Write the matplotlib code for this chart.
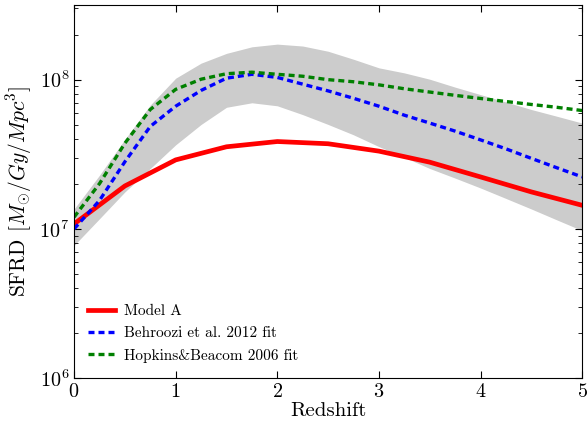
import numpy as np
import matplotlib
matplotlib.use('Agg')
import matplotlib.pyplot as plt

plt.rcParams['font.family'] = 'serif'
plt.rcParams['font.serif'] = ['cmr10']
plt.rcParams['mathtext.fontset'] = 'cm'
plt.rcParams['axes.formatter.use_mathtext'] = True

# redshift grids
z_model = [0, 0.5, 1, 1.5, 2, 2.5, 3, 3.5, 4, 4.5, 5]
z_fit = [0, 0.25, 0.5, 0.75, 1, 1.25, 1.5, 1.75, 2, 2.25, 2.5,
         2.75, 3, 3.25, 3.5, 3.75, 4, 4.25, 4.5, 4.75, 5]

# SFRD in M_sun / Gyr / Mpc^3
model_a = [1.08e7, 1.94e7, 2.9e7, 3.55e7, 3.85e7, 3.72e7,
           3.32e7, 2.8e7, 2.23e7, 1.77e7, 1.44e7]
behroozi = [1.00e7, 1.55e7, 2.82e7, 4.86e7, 6.64e7, 8.47e7, 1.023e8,
            1.086e8, 1.035e8, 9.33e7, 8.41e7, 7.50e7, 6.64e7, 5.78e7,
            5.12e7, 4.52e7, 3.95e7, 3.44e7, 2.97e7, 2.57e7, 2.23e7]
hopkins = [1.20e7, 2.01e7, 3.75e7, 6.31e7, 8.61e7, 1.007e8, 1.096e8,
           1.122e8, 1.086e8, 1.054e8, 1.0e8, 9.68e7, 9.23e7, 8.69e7,
           8.26e7, 7.85e7, 7.48e7, 7.14e7, 6.82e7, 6.53e7, 6.21e7]
band_hi = [1.36e7, 2.29e7, 3.98e7, 6.76e7, 1.023e8, 1.29e8, 1.50e8,
           1.66e8, 1.73e8, 1.68e8, 1.55e8, 1.37e8, 1.20e8, 1.11e8,
           1.007e8, 8.91e7, 7.94e7, 7.08e7, 6.31e7, 5.69e7, 5.12e7]
band_lo = [7.76e6, 1.17e7, 1.77e7, 2.54e7, 3.66e7, 5.01e7, 6.53e7,
           7.0e7, 6.68e7, 5.83e7, 5.01e7, 4.27e7, 3.56e7, 3.02e7,
           2.54e7, 2.19e7, 1.88e7, 1.60e7, 1.36e7, 1.15e7, 9.75e6]

fig = plt.figure(figsize=(5.88, 4.23), dpi=100)
ax = fig.add_axes([0.126, 0.106, 0.864, 0.882])

ax.fill_between(z_fit, band_lo, band_hi, color='#cccccc', lw=0)
ax.plot(z_model, model_a, color='red', lw=3.4, label='Model A')
ax.plot(z_fit, behroozi, color='blue', lw=2.4, dashes=(1.8, 1.2),
        label='Behroozi et al. 2012 fit')
ax.plot(z_fit, hopkins, color='green', lw=2.4, dashes=(1.8, 1.2),
        label='Hopkins&Beacom 2006 fit')

ax.set_yscale('log')
ax.set_xlim(0, 5)
ax.set_ylim(1e6, 3.16e8)
ax.set_xticks([0, 1, 2, 3, 4, 5])
ax.tick_params(which='both', direction='in', top=True, right=True,
               labelsize=14.5)
ax.tick_params(which='major', length=5)
ax.tick_params(which='minor', length=3)

ax.set_xlabel('Redshift', fontsize=15, labelpad=1)
ax.set_ylabel(r'SFRD $[M_{\odot}/Gy/Mpc^3]$', fontsize=15.5)

ax.legend(loc='lower left', frameon=False, fontsize=11,
          handlelength=1.8, handletextpad=0.55, labelspacing=0.55,
          bbox_to_anchor=(0.0, 0.005))

fig.savefig('out.png', dpi=100)
